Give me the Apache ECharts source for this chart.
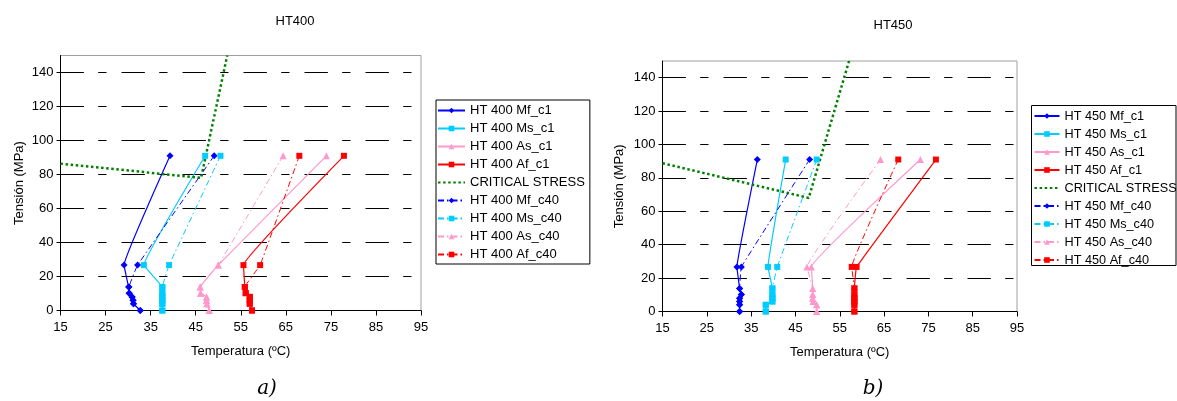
<!DOCTYPE html>
<html>
<head>
<meta charset="utf-8">
<script src="https://cdn.jsdelivr.net/npm/echarts@6/dist/echarts.min.js"></script>
<style>
  html, body { margin: 0; padding: 0; background: #fff; }
  #chart { width: 1177px; height: 401px; }
</style>
</head>
<body>
<div id="chart"></div>
<script>
// Stress levels (MPa) shared by every transformation-temperature series
const stressLevels = [91, 26.7, 13.8, 10.2, 8, 6, 4, 0];

// Transformation temperatures (ºC) for HT400, one value per stress level
const ht400MfC1  = [39.3, 29.1, 30.1, 30.2, 30.9, 31.1, 31.2, 32.7];
const ht400MsC1  = [47.1, 33.5, 37.6, 37.6, 37.6, 37.6, 37.6, 37.6];
const ht400AsC1  = [74.0, 50.0, 46.0, 46.1, 47.4, 47.4, 47.5, 48.0];
const ht400AfC1  = [77.9, 55.6, 55.9, 56.1, 57.0, 57.0, 57.0, 57.5];
const ht400MfC40 = [49.1, 32.1, 30.2, 30.3, 30.9, 31.1, 31.2, 32.7];
const ht400MsC40 = [50.5, 39.1, 37.6, 37.6, 37.6, 37.6, 37.6, 37.6];
const ht400AsC40 = [64.4, 50.0, 46.0, 46.1, 47.4, 47.4, 47.5, 48.0];
const ht400AfC40 = [68.0, 59.3, 55.9, 56.1, 57.0, 57.0, 57.0, 57.5];

// Transformation temperatures (ºC) for HT450
const ht450MfC1  = [36.4, 31.8, 32.4, 32.8, 32.4, 32.4, 32.4, 32.4];
const ht450MsC1  = [42.8, 38.8, 39.8, 39.8, 39.8, 39.8, 38.3, 38.3];
const ht450AsC1  = [73.2, 48.6, 48.9, 48.9, 48.9, 49.0, 49.8, 49.8];
const ht450AfC1  = [76.7, 58.8, 58.3, 58.3, 58.3, 58.3, 58.3, 58.3];
const ht450MfC40 = [48.2, 32.8, 32.4, 32.8, 32.4, 32.4, 32.4, 32.4];
const ht450MsC40 = [49.8, 40.9, 39.8, 39.8, 39.8, 39.8, 38.3, 38.3];
const ht450AsC40 = [64.2, 47.6, 48.9, 48.9, 48.9, 49.0, 49.8, 49.8];
const ht450AfC40 = [68.2, 57.7, 58.3, 58.3, 58.3, 58.3, 58.3, 58.3];

// Critical stress lines: temperature / stress pairs
const critTemp400   = [15, 46.2, 52.0];
const critStress400 = [86.4, 78, 150];
const critTemp450   = [15, 48.0, 57.1];
const critStress450 = [88.8, 68, 150];

// Axis ranges and ticks
const tempMin = 15, tempMax = 95, tempStep = 10;
const stressMin = 0, stressMax = 150, stressStep = 20;

const chartTitles = ['HT400', 'HT450'];
const captions = ['a)', 'b)'];
const criticalName = 'CRITICAL STRESS';

const FONT = 'Liberation Sans, Arial, sans-serif';
const COLORS = { Mf: '#0000FF', Ms: '#00CCFF', As: '#FF99CC', Af: '#FF0000' };
const SYMBOLS = { Mf: ['diamond', 7], Ms: ['rect', 6], As: ['triangle', 7], Af: ['rect', 6] };
const DASH_DOT = [6, 3, 1.5, 3];

function tempSeries(name, kind, temps, idx, cycle40) {
  return {
    name: name,
    type: 'line',
    xAxisIndex: idx,
    yAxisIndex: idx,
    data: temps.map((t, i) => [t, stressLevels[i]]),
    smooth: 0.06,
    symbol: SYMBOLS[kind][0],
    symbolSize: SYMBOLS[kind][1],
    showAllSymbol: true,
    itemStyle: { color: COLORS[kind] },
    lineStyle: { color: COLORS[kind], width: cycle40 ? 1 : 1.2, type: cycle40 ? DASH_DOT : 'solid' },
    emphasis: { disabled: true },
    animation: false
  };
}

function critSeries(idx, temps, stresses) {
  return {
    name: criticalName,
    type: 'line',
    xAxisIndex: idx,
    yAxisIndex: idx,
    data: temps.map((t, i) => [t, stresses[i]]),
    symbol: 'none',
    itemStyle: { color: '#008000' },
    lineStyle: { color: '#008000', width: 2.5, type: [2.5, 2.6] },
    emphasis: { disabled: true },
    animation: false
  };
}

function buildGroup(idx, label, d) {
  const names = [
    `HT ${label} Mf_c1`, `HT ${label} Ms_c1`, `HT ${label} As_c1`, `HT ${label} Af_c1`,
    criticalName,
    `HT ${label} Mf_c40`, `HT ${label} Ms_c40`, `HT ${label} As_c40`, `HT ${label} Af_c40`
  ];
  const series = [
    tempSeries(names[0], 'Mf', d.mfC1, idx, false),
    tempSeries(names[1], 'Ms', d.msC1, idx, false),
    tempSeries(names[2], 'As', d.asC1, idx, false),
    tempSeries(names[3], 'Af', d.afC1, idx, false),
    critSeries(idx, d.critT, d.critS),
    tempSeries(names[5], 'Mf', d.mfC40, idx, true),
    tempSeries(names[6], 'Ms', d.msC40, idx, true),
    tempSeries(names[7], 'As', d.asC40, idx, true),
    tempSeries(names[8], 'Af', d.afC40, idx, true)
  ];
  return { names, series };
}

const g400 = buildGroup(0, '400', {
  mfC1: ht400MfC1, msC1: ht400MsC1, asC1: ht400AsC1, afC1: ht400AfC1,
  mfC40: ht400MfC40, msC40: ht400MsC40, asC40: ht400AsC40, afC40: ht400AfC40,
  critT: critTemp400, critS: critStress400
});
const g450 = buildGroup(1, '450', {
  mfC1: ht450MfC1, msC1: ht450MsC1, asC1: ht450AsC1, afC1: ht450AfC1,
  mfC40: ht450MfC40, msC40: ht450MsC40, asC40: ht450AsC40, afC40: ht450AfC40,
  critT: critTemp450, critS: critStress450
});

function xAxisCfg(idx) {
  return {
    type: 'value', gridIndex: idx,
    min: tempMin, max: tempMax, interval: tempStep,
    name: 'Temperatura (ºC)', nameLocation: 'middle', nameGap: 34,
    nameTextStyle: { fontFamily: FONT, fontSize: 13, color: '#000' },
    axisLine: { show: true, onZero: false, lineStyle: { color: '#000', width: 1 } },
    axisTick: { show: true, length: 5, lineStyle: { color: '#000' } },
    axisLabel: { fontFamily: FONT, fontSize: 13, color: '#000', margin: 10 },
    splitLine: { show: false }
  };
}

function yAxisCfg(idx, gap) {
  return {
    type: 'value', gridIndex: idx,
    min: stressMin, max: stressMax, interval: stressStep,
    name: 'Tensión (MPa)', nameLocation: 'middle', nameGap: gap,
    nameTextStyle: { fontFamily: FONT, fontSize: 13, color: '#000' },
    axisLine: { show: true, onZero: false, lineStyle: { color: '#000', width: 1 } },
    axisTick: { show: true, length: 4, lineStyle: { color: '#000' } },
    axisLabel: { fontFamily: FONT, fontSize: 13, color: '#000', margin: 7, showMaxLabel: false },
    splitLine: {
      show: true, showMinLine: false, showMaxLine: false,
      lineStyle: { color: '#000', width: 1, type: [23.4, 14.3, 8.3, 15] }
    }
  };
}

function legendCfg(names, left, top, padding, fontSize, itemWidth, border) {
  return {
    show: true, orient: 'vertical', left: left, top: top,
    // the critical-stress entry is a plain dotted line without a marker
    data: names.map(n => n === criticalName ? { name: n, itemStyle: { opacity: 0 } } : n),
    padding: padding,
    itemGap: 5, itemWidth: itemWidth, itemHeight: 7,
    borderColor: '#000', borderWidth: border ? 1 : 0,
    backgroundColor: '#fff',
    selectedMode: false,
    textStyle: { fontFamily: FONT, fontSize: fontSize, color: '#000' }
  };
}

const option = {
  animation: false,
  backgroundColor: '#fff',
  grid: [
    { left: 60.5, top: 55.5, width: 360.5, height: 255, show: true, borderColor: '#a0a0a0', borderWidth: 1, containLabel: false },
    { left: 662.5, top: 61, width: 354.5, height: 250.5, show: true, borderColor: '#a0a0a0', borderWidth: 1, containLabel: false }
  ],
  xAxis: [xAxisCfg(0), xAxisCfg(1)],
  yAxis: [yAxisCfg(0, 35), yAxisCfg(1, 37)],
  legend: [
    legendCfg(g400.names, 436, 100, [4, 5, 3, 1], 13, 27, true),
    legendCfg(g450.names, 1031.5, 105, [4.5, 5, 3, 2], 12.7, 25, false)
  ],
  series: g400.series.concat(g450.series),
  graphic: [
    { type: 'text', x: 295, y: 21, style: { text: chartTitles[0], font: '13px ' + FONT, fill: '#000', textAlign: 'center', textVerticalAlign: 'middle' } },
    { type: 'text', x: 893, y: 25, style: { text: chartTitles[1], font: '13px ' + FONT, fill: '#000', textAlign: 'center', textVerticalAlign: 'middle' } },
    { type: 'text', x: 267, y: 389, style: { text: captions[0], font: 'italic 20px "DejaVu Serif", serif', fill: '#000', textAlign: 'center', textVerticalAlign: 'middle' } },
    { type: 'text', x: 873, y: 389, style: { text: captions[1], font: 'italic 20px "DejaVu Serif", serif', fill: '#000', textAlign: 'center', textVerticalAlign: 'middle' } },
    { type: 'rect', z: 100, silent: true, shape: { x: 1031.5, y: 105.5, width: 144.5, height: 160 }, style: { fill: 'none', stroke: '#000', lineWidth: 1 } }
  ]
};

const chart = echarts.init(document.getElementById('chart'), null, { renderer: 'canvas' });
chart.setOption(option);
</script>
</body>
</html>
